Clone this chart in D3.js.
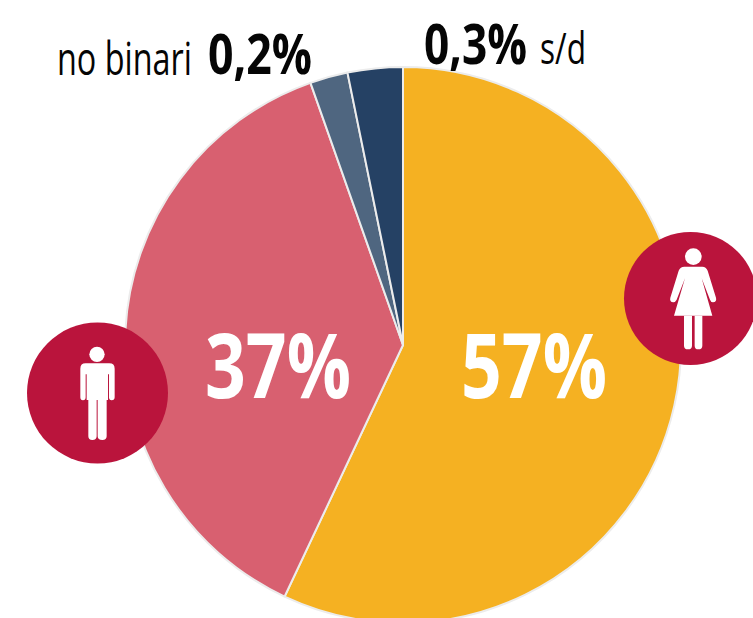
<!DOCTYPE html>
<html><head><meta charset="utf-8">
<script src="https://cdnjs.cloudflare.com/ajax/libs/d3/7.8.5/d3.min.js"></script>
<style>html,body{margin:0;background:#fff;overflow:hidden}svg{display:block}text{font-family:"Open Sans","Liberation Sans",sans-serif}</style>
</head><body><svg id="c" width="753" height="618"></svg>
<script>
const categories = ["Mujeres","Hombres","No binari","S/d"];
const sliceValues = [57,37.6,2.2,3.2];
const sliceColors = ["#F5B122","#D86070","#4F6680","#254164"];
const bigLabels = ["57%","37%"];
const smallLabels = ["no binari","0,2%","0,3%","s/d"];

const svg = d3.select("#c");
const pie = d3.pie().sort(null).value(d=>d)(sliceValues);
const arc = d3.arc().innerRadius(0).outerRadius(278);
svg.append("g").attr("transform","translate(403,345)")
  .selectAll("path").data(pie).join("path")
  .attr("d",arc).attr("fill",(d,i)=>sliceColors[i])
  .attr("stroke","#ececec").attr("stroke-width",2).attr("stroke-linejoin","round");

function txt(s,x,y,size,w,weight,fill){
  const t = svg.append("text").text(s)
   .attr("font-size",size).attr("font-weight",weight).attr("fill",fill);
  const k = w / t.node().getComputedTextLength();
  t.attr("transform",`translate(${x},${y}) scale(${k},1)`);
}
txt(bigLabels[0],461,398,90,146,700,"#fff");
txt(bigLabels[1],205,398,90,146,700,"#fff");
txt(smallLabels[0],57,75,46,135,400,"#050505");
txt(smallLabels[1],208,74,55,104,700,"#050505");
txt(smallLabels[2],424,64,56,103,700,"#050505");
txt(smallLabels[3],540,64,43,46,400,"#050505");

const crimson="#BA143C";
svg.append("circle").attr("cx",690.5).attr("cy",298.5).attr("r",66.5).attr("fill",crimson);
svg.append("circle").attr("cx",97.5).attr("cy",393).attr("r",70.5).attr("fill",crimson);

const f = svg.append("g").attr("transform","translate(620,225) scale(0.3333)").attr("fill","#fff");
f.append("circle").attr("cx",220).attr("cy",95).attr("r",25);
f.append("path").attr("d","M193 125H247Q258 125 263 137L288 218Q291 230 279 232Q273 232 270 224L245 160L277 272H162L195 160L170 224Q166 232 160 232Q148 230 151 218L176 137Q181 125 193 125Z");
f.append("path").attr("d","M192 272H216V362Q216 373 204 373Q192 373 192 362ZM224 272H247V362Q247 373 235 373Q224 373 224 362Z");

const m = svg.append("g").attr("transform","translate(20,315) scale(0.3333)").attr("fill","#fff");
m.append("circle").attr("cx",231).attr("cy",118).attr("r",23);
m.append("path").attr("d","M197 145H268Q284 145 284 161V247Q284 256 275 256Q267 256 267 247V178H264V255H260V364Q260 375 247 375Q233 375 233 364V255H230V364Q230 375 217 375Q205 375 205 364V255H200V178H197V247Q197 256 189 256Q181 256 181 247V161Q181 145 197 145Z");
</script></body></html>
